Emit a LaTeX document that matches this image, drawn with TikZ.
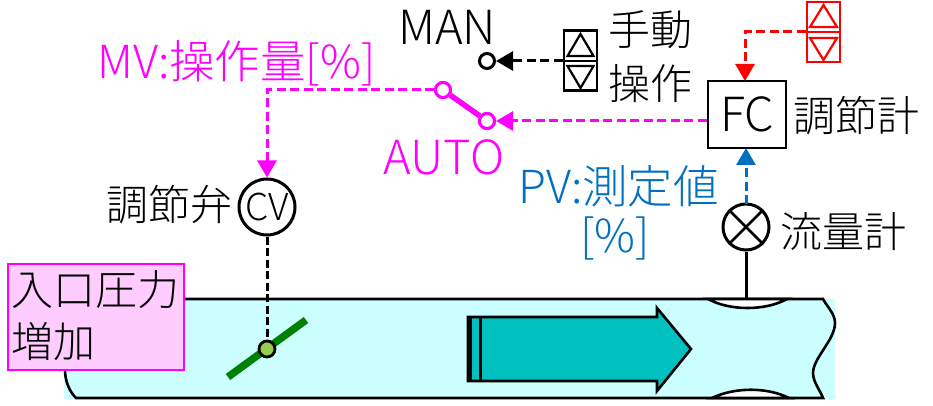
\documentclass[tikz,border=0pt]{standalone}
\usepackage{fontspec}
\setmainfont{Noto Sans CJK JP Light}
\usetikzlibrary{arrows.meta}
\definecolor{mag}{HTML}{FF00FF}
\definecolor{pv}{HTML}{0070C0}
\definecolor{pipefill}{HTML}{CCFFFF}
\definecolor{pinkfill}{HTML}{FFCCFF}
\definecolor{teal}{HTML}{00C0C0}
\definecolor{valve}{HTML}{92D050}
\definecolor{vgreen}{HTML}{008000}
\tikzset{
 lbl/.style={inner sep=0pt,font=\fontsize{42}{42}\selectfont,anchor=center},
 lat/.style={font=\fontsize{47}{47}\selectfont},
 mix/.style={font=\fontsize{45.5}{45.5}\selectfont},
 dashline/.style={line width=3pt,dash pattern=on 9pt off 4.5pt},
 tip/.style={-{Triangle[length=17pt,width=19pt]}},
 swc/.style={circle,draw,line width=3pt,fill=white,minimum size=15pt,inner sep=0pt},
 updown/.style={draw,line width=2.4pt,minimum width=33pt,minimum height=60pt,inner sep=0pt},
 tri/.style={line width=2.2pt,line join=miter},
}
\begin{document}
\begin{tikzpicture}[x=1pt,y=-1pt]
\useasboundingbox (0,0) rectangle (933,406);
% pipe
\fill[pipefill] (64,299) rectangle (835,399);
\draw[line width=2.6pt] (185,299) -- (823,299) .. controls (828,308) and (835,314) .. (835,323) .. controls (835,340) and (813,358) .. (813,373) .. controls (813,382) and (820,390) .. (823,398) -- (76,398) .. controls (70,392) and (65,382) .. (65,370);
\draw[line width=2.6pt,fill=white] (708,299) .. controls (730,311) and (765,311) .. (787,299) -- cycle;
\draw[line width=2.6pt,fill=white] (712,398) .. controls (735,387) and (767,387) .. (789,398) -- cycle;
% big arrow
\draw[line width=2.6pt,fill=teal,line join=miter] (468,317) -- (657,317) -- (657,308) -- (691,349) -- (657,391) -- (657,381) -- (468,381) -- cycle;
\draw[line width=4.5pt] (470,317) -- (470,381);
\draw[line width=3.2pt] (480.5,317) -- (480.5,381);
% pink box
\node[draw=mag,fill=pinkfill,line width=2.6pt,minimum width=176pt,minimum height=106pt,inner sep=0pt] (inbox) at (96,317) {};
\node[lbl,anchor=west] (t1) at (11,290) {入口圧力};
\node[lbl,anchor=west] (t2) at (11,342) {増加};
% nodes
\node[draw,line width=2.8pt,fill=white,minimum width=78pt,minimum height=67pt,inner sep=0pt] (fc) at (747,114.5) {};
\node[lbl,lat] (fct) at (747,114) {FC};
\node[circle,draw,line width=3pt,fill=white,minimum size=46pt,inner sep=0pt] (fm) at (746,227) {};
\draw[line width=2.8pt] (fm.north west) -- (fm.south east) (fm.north east) -- (fm.south west);
\node[circle,draw,line width=3pt,fill=white,minimum size=56pt,inner sep=0pt,font=\fontsize{37}{37}\selectfont] (cv) at (267,207) {CV};
\node[swc] (man) at (487,61) {};
\node[swc,draw=mag] (sw1) at (443,90) {};
\node[swc,draw=mag] (sw2) at (487,121) {};
\node[updown] (ud) at (580.5,60.5) {};
\node[updown,draw=red] (udr) at (823.5,32) {};
\coordinate (pipetop) at (746,299);
\coordinate (cvbend) at (267,90);
\coordinate (redbend) at (745,32);
\coordinate (fctop) at (745,81);
\coordinate (fcbot) at (746,148);
\coordinate (fmtop) at (746,204);
% valve
\coordinate (va) at (228,377);
\coordinate (vb) at (306,320);
\draw[vgreen,line width=7.5pt] (va) -- (vb);
\node[circle,draw,line width=2.8pt,fill=valve,minimum size=16pt,inner sep=0pt] (vc) at (267,349) {};
% up/down glyphs
\draw[tri] (580.5,34) -- (567.5,56) -- (593.5,56) -- cycle;
\draw[tri] (580.5,88) -- (567.5,66) -- (593.5,66) -- cycle;
\draw[line width=2.4pt] (564,61) -- (597,61);
\draw[tri,red] (823.5,5) -- (810,27) -- (837,27) -- cycle;
\draw[tri,red] (823.5,60) -- (810,38) -- (837,38) -- cycle;
\draw[line width=2.4pt,red] (807,32) -- (840,32);
% connectors
\draw[dashline,tip] (ud.west |- man) -- (man.east);
\draw[dashline,mag,tip] (fc.west |- sw2) -- (sw2.east);
\draw[dashline,mag,tip] (sw1.west) -- (cvbend) -- (cv.north);
\draw[mag,line width=5.5pt] (sw1) -- (sw2);
\node[swc,draw=mag] at (sw1) {};
\node[swc,draw=mag] at (sw2) {};
\draw[dashline,red,tip] (udr.west) -- (redbend) -- (fctop);
\draw[dashline,pv,tip] (fmtop) -- (fcbot);
\draw[line width=3pt] (fm.south) -- (pipetop);
\draw[line width=3pt,dash pattern=on 8pt off 3.5pt] (cv.south) -- (vc.north);
% labels
\node[lbl,lat] (lman) at (447,27) {MAN};
\node[lbl,anchor=west] (lm1) at (608,30) {手動};
\node[lbl,anchor=west] (lm2) at (608,84) {操作};
\node[lbl,mix,anchor=west,text=mag] (lmv) at (97,63) {MV:操作量[\%]};
\node[lbl,lat,text=mag] (lauto) at (444,157) {AUTO};
\node[lbl,anchor=west] (lfc) at (793,116) {調節計};
\node[lbl,mix,anchor=west,text=pv] (lpv) at (518,186) {PV:測定値};
\node[lbl,mix,text=pv] (lpv2) at (615,238) {[\%]};
\node[lbl,anchor=west] (lcv) at (106,205) {調節弁};
\node[lbl,anchor=west] (lfm) at (780,232) {流量計};
\end{tikzpicture}
\end{document}
